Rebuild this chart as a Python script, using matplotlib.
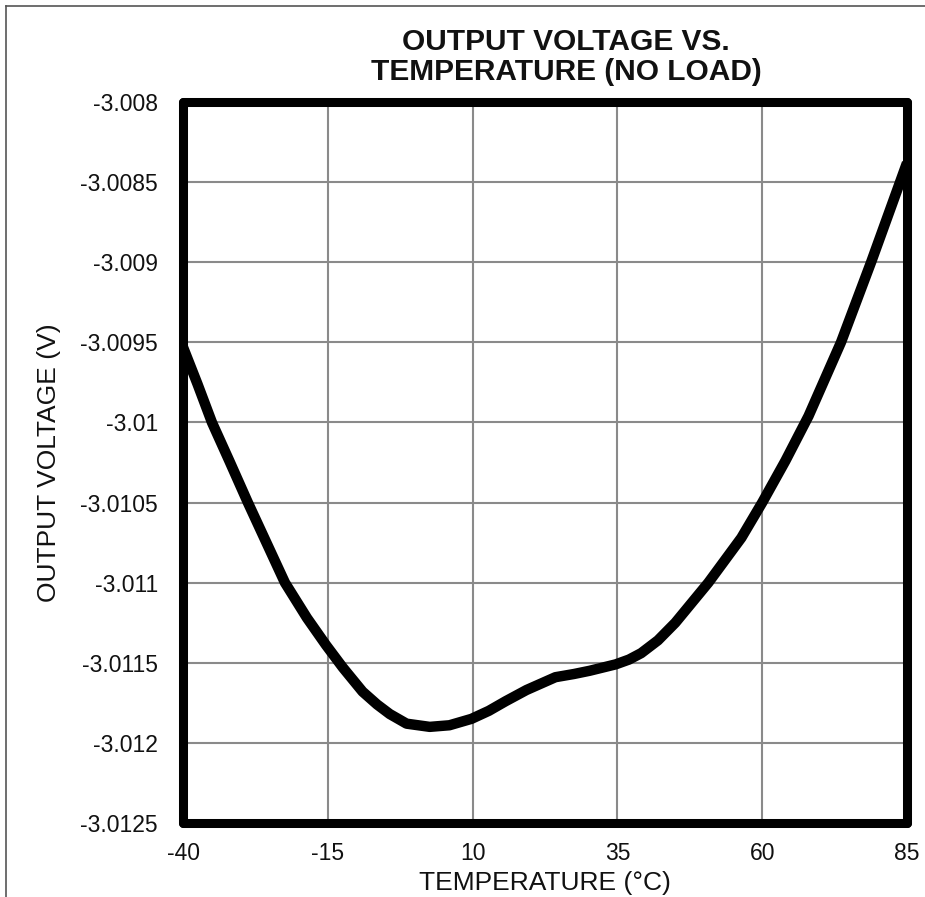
import matplotlib
matplotlib.use("Agg")
import matplotlib.pyplot as plt
from matplotlib.lines import Line2D

# values
temps = [-40, -37.5, -35.0, -32, -28.8, -25.6, -22.4, -18.6, -15.3, -12.4,
         -9.0, -6.5, -4.3, -1.4, 2.6, 6.0, 9.8, 12.8, 15.7, 19.3, 24.3, 27.5,
         30.2, 34.7, 37.0, 39.1, 42.0, 45.0, 50.7, 56.4, 60.0, 64.0, 68.0,
         73.6, 78.8, 83.8, 85]
volts = [-3.00953, -3.00976, -3.01000, -3.01024, -3.01050, -3.01075, -3.01100,
         -3.01122, -3.01139, -3.01153, -3.01168, -3.01176, -3.01182, -3.01188,
         -3.01190, -3.01189, -3.01185, -3.01180, -3.01174, -3.01167, -3.01159,
         -3.01157, -3.01155, -3.01151, -3.01148, -3.01144, -3.01136, -3.01125,
         -3.01100, -3.01072, -3.01050, -3.01024, -3.00996, -3.00950, -3.00900,
         -3.00850, -3.00838]

x_ticks = [-40, -15, 10, 35, 60, 85]
y_ticks = [-3.008, -3.0085, -3.009, -3.0095, -3.01, -3.0105, -3.011, -3.0115,
           -3.012, -3.0125]
y_labels = ["-3.008", "-3.0085", "-3.009", "-3.0095", "-3.01", "-3.0105",
            "-3.011", "-3.0115", "-3.012", "-3.0125"]

plt.rcParams["font.family"] = ["Liberation Sans", "DejaVu Sans"]

fig = plt.figure(figsize=(9.25, 8.97), dpi=100)
ax = fig.add_axes([183 / 925, 1 - 823 / 897, (907 - 183) / 925, (823 - 102) / 897])

ax.plot(temps, volts, color="black", linewidth=7.5, solid_capstyle="butt",
        solid_joinstyle="round", zorder=3)

ax.set_xlim(-40, 85)
ax.set_ylim(-3.0125, -3.008)
ax.set_xticks(x_ticks)
ax.set_xticklabels([str(t) for t in x_ticks])
ax.set_yticks(y_ticks)
ax.set_yticklabels(y_labels)
ax.tick_params(axis="y", length=0, labelsize=16.5, pad=18, colors="#111111")
ax.tick_params(axis="x", length=0, labelsize=16.5, pad=14, colors="#111111")
ax.grid(True, color="#8a8a8a", linewidth=1.5)
ax.set_axisbelow(True)
for s in ax.spines.values():
    s.set_linewidth(6.5)
    s.set_color("black")
    s.set_capstyle("round")
    s.set_zorder(4)

ax.set_xlabel("TEMPERATURE (°C)", fontsize=19, labelpad=4, color="#111111")
ax.set_ylabel("OUTPUT VOLTAGE (V)", fontsize=19, labelpad=14, color="#111111")
fig.text(566 / 925, 1 - 57 / 897, "OUTPUT VOLTAGE VS.\nTEMPERATURE (NO LOAD)",
         ha="center", va="center", fontsize=21.5, fontweight="bold",
         linespacing=1.05, color="#111111")

# faint screenshot border on the left and top
fig.add_artist(Line2D([6 / 925, 6 / 925], [0, 1 - 6 / 897], transform=fig.transFigure,
                      color="#555555", linewidth=1.2))
fig.add_artist(Line2D([6 / 925, 1], [1 - 6 / 897, 1 - 6 / 897], transform=fig.transFigure,
                      color="#555555", linewidth=1.2))

fig.savefig("out.png", dpi=100)
